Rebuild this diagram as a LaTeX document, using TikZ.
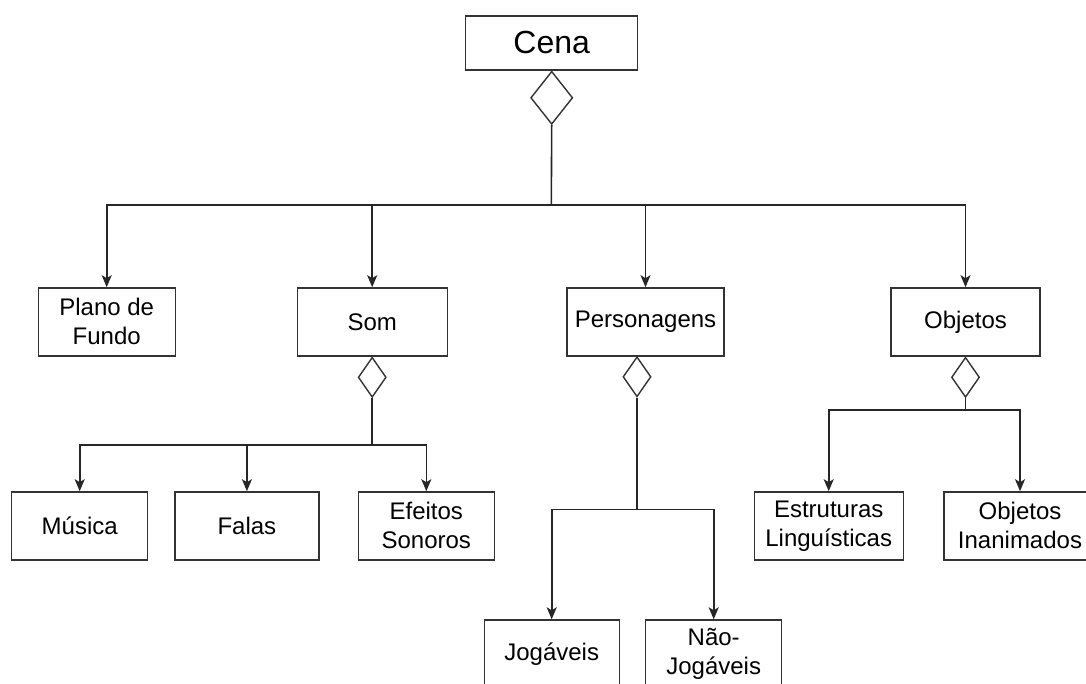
\documentclass[tikz,border=0pt]{standalone}
\usepackage{fontspec}
\setmainfont{Liberation Sans}
\usetikzlibrary{arrows.meta,shapes.geometric}

\begin{document}
\begin{tikzpicture}[
            x=1pt,
            y=-1pt,
            box/.style={
                draw=black!80,
                fill=white,
                line width=1.4pt,
                minimum height=68pt,
                inner sep=2pt,
                align=center,
                font=\fontsize{24}{29}\selectfont
            },
            agg/.style={
                diamond,
                draw=black!80,
                fill=white,
                line width=1.4pt,
                inner sep=0pt,
                minimum width=28pt,
                minimum height=40pt
            },
            ln/.style={
                draw=black!85,
                line width=1.6pt
            },
            arr/.style={
                ln,
                -{Stealth[length=12pt,width=10pt,inset=3pt]}
            }
        ]

            \useasboundingbox (0,0) rectangle (1086,684);

            % Root
            \node[box, minimum width=172pt, minimum height=54pt,
                  font=\fontsize{32}{36}\selectfont] (cena) at (551.7,42.9) {Cena};
            \node[agg, minimum width=42pt, minimum height=53pt, anchor=north] (dCena) at (cena.south) {};

            % First level
            \node[box, minimum width=137pt] (plano) at (106.7,321.9) {Plano de\\Fundo};
            \node[box, minimum width=150pt] (som) at (372.2,321.9) {Som};
            \node[box, minimum width=157pt] (pers) at (645.5,321.9) {Personagens};
            \node[box, minimum width=149pt] (obj) at (965.5,321.9) {Objetos};

            % Diamonds under first level
            \node[agg, anchor=north] (dSom) at (som.south) {};
            \node[agg, anchor=north] (dPers) at (637,356.1) {};
            \node[agg, anchor=north] (dObj) at (obj.south) {};

            % Som children
            \node[box, minimum width=136pt] (musica) at (79.7,525.9) {Música};
            \node[box, minimum width=144pt] (falas) at (246.9,525.9) {Falas};
            \node[box, minimum width=136pt] (efeitos) at (426.3,525.9) {Efeitos\\Sonoros};

            % Personagens children
            \node[box, minimum width=135pt] (jog) at (551.7,654) {Jogáveis};
            \node[box, minimum width=136pt] (naojog) at (713.7,654) {Não-\\Jogáveis};

            % Objetos children
            \node[box, minimum width=149pt] (estr) at (828.7,525.9) {Estruturas\\Linguísticas};
            \node[box, minimum width=152pt] (inan) at (1020,525.9) {Objetos\\Inanimados};

            % Junctions
            \coordinate (jCena) at (551.3,205);
            \coordinate (jSom) at (372.2,445);
            \coordinate (jPers) at (637,509.3);
            \coordinate (jObj) at (965.5,410);

            % Cena
            \draw[ln] (dCena.south) -- (jCena);
            \draw[arr] (jCena) -| (plano);
            \draw[arr] (jCena) -| (som);
            \draw[arr] (jCena) -| (pers);
            \draw[arr] (jCena) -| (obj);

            % Som
            \draw[ln] (dSom.south) -- (jSom);
            \draw[arr] (jSom) -| (musica);
            \draw[arr] (jSom) -| (falas);
            \draw[arr] (jSom) -| (efeitos);

            % Personagens
            \draw[ln] (dPers.south) -- (jPers);
            \draw[arr] (jPers) -| (jog);
            \draw[arr] (jPers) -| (naojog);

            % Objetos
            \draw[ln] (dObj.south) -- (jObj);
            \draw[arr] (jObj) -| (estr);
            \draw[arr] (jObj) -| (inan);

        \end{tikzpicture}
\end{document}
